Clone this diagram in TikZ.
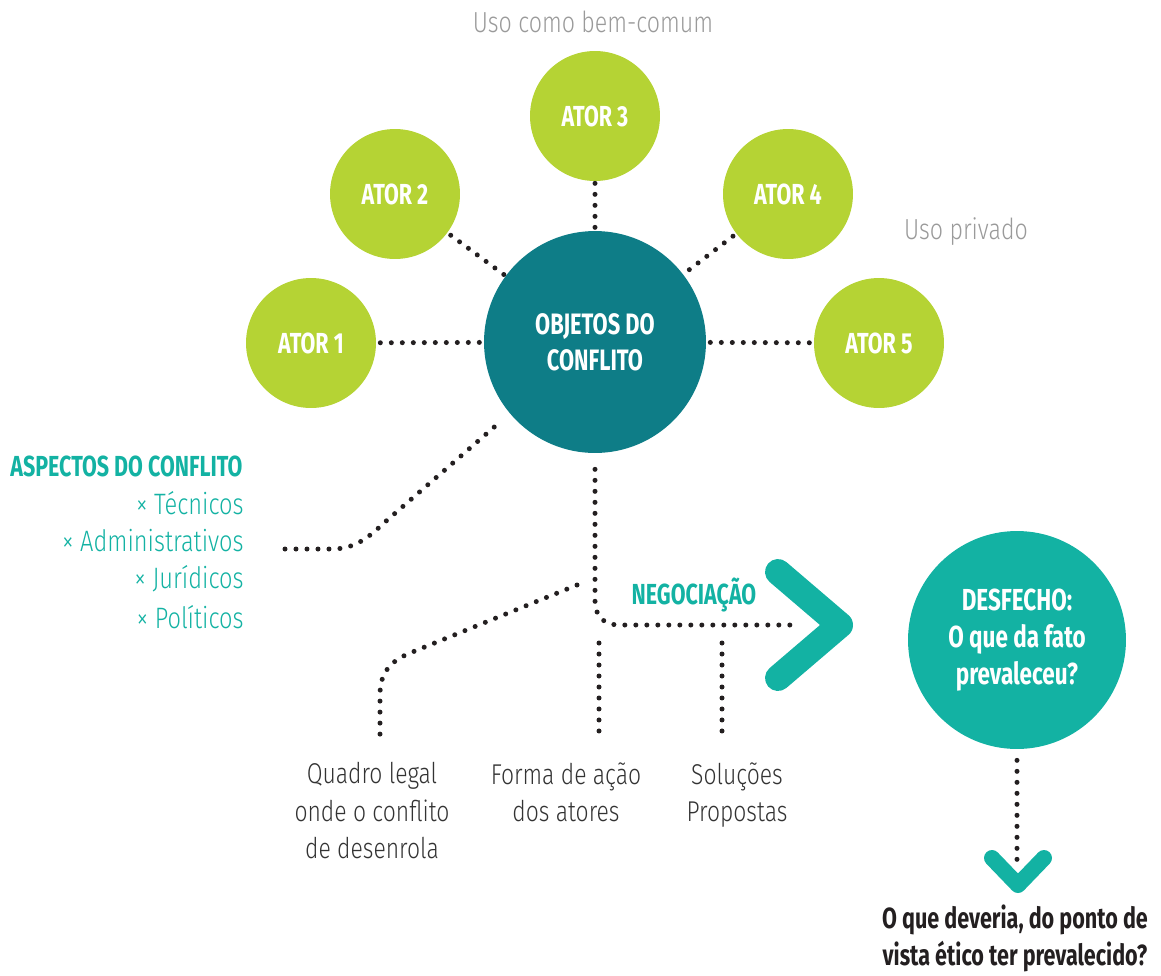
\documentclass[tikz,border=0pt]{standalone}
\usepackage{fontspec}
\setmainfont{Fira Sans}[FakeStretch=0.74]
\newfontfamily\lightf{Fira Sans Light}[FakeStretch=0.8]
\definecolor{lime}{HTML}{B5D334}
\definecolor{hubc}{HTML}{0E7D87}
\definecolor{tealc}{HTML}{13B2A3}
\definecolor{dotc}{HTML}{231F20}
\definecolor{grayc}{HTML}{9A9A9A}
\definecolor{labc}{HTML}{333333}
\begin{document}
\begin{tikzpicture}[x=0.02cm,y=-0.02cm,
  actor/.style={circle, fill=lime, minimum size=2.6cm, inner sep=0pt, text=white,
    font=\bfseries\fontsize{16.5}{20}\selectfont},
  hub/.style={circle, fill=hubc, minimum size=4.44cm, inner sep=0pt, text=white, align=center,
    font=\bfseries\fontsize{16.8}{20.5}\selectfont},
  outc/.style={circle, fill=tealc, minimum size=4.36cm, inner sep=0pt, text=white, align=center,
    font=\bfseries\fontsize{17.3}{21.3}\selectfont},
  dots/.style={draw=dotc, line width=0.1cm, dash pattern=on 0pt off 0.22cm, line cap=round},
  graytxt/.style={text=grayc, inner sep=0pt, font=\lightf\fontsize{16.5}{20}\selectfont},
  aspitem/.style={text=tealc, anchor=east, inner sep=0pt, font=\lightf\fontsize{16.8}{20}\selectfont},
  labtxt/.style={text=labc, inner sep=0pt, align=center, font=\lightf\fontsize{16.3}{21.3}\selectfont},
  chev/.style={draw=tealc, line cap=round, line join=round}
]
\useasboundingbox (0,0) rectangle (1161,975);

% actors and hub
\node[hub] (c) at (595,342) {OBJETOS DO\\CONFLITO};
\node[actor] (a1) at (311,343) {ATOR 1};
\node[actor] (a2) at (395,194) {ATOR 2};
\node[actor] (a3) at (595,116) {ATOR 3};
\node[actor] (a4) at (788,194) {ATOR 4};
\node[actor] (a5) at (879,343) {ATOR 5};
\node[outc] (d) at (1017,640) {DESFECHO:\\O que da fato\\prevaleceu?};

% texts
\node[graytxt] (ubc) at (593,22) {Uso como bem-comum};
\node[graytxt] (upr) at (966,232) {Uso privado};
\node[anchor=west, inner sep=0pt, text=tealc, font=\bfseries\fontsize{16.5}{20}\selectfont] (asp) at (10,466) {ASPECTOS DO CONFLITO};
\node[aspitem] (t1) at (244,503) {× Técnicos};
\node[aspitem] (t2) at (244,541) {× Administrativos};
\node[aspitem] (t3) at (244,579) {× Jurídicos};
\node[aspitem] (t4) at (244,617) {× Políticos};
\node[inner sep=0pt, text=tealc, font=\bfseries\fontsize{16.5}{20}\selectfont] (neg) at (694,595) {NEGOCIAÇÃO};
\node[labtxt, anchor=north] (ql) at (372,762) {Quadro legal\\onde o conflito\\de desenrola};
\node[labtxt, anchor=north] (fa) at (566,762) {Forma de ação\\dos atores};
\node[labtxt, anchor=north] (sp) at (737,762) {Soluções\\Propostas};
\node[inner sep=0pt, align=center, text=dotc, font=\bfseries\fontsize{16.6}{21}\selectfont] (q) at (1015,938) {O que deveria, do ponto de\\vista ético ter prevalecido?};

% coordinates for free ends
\coordinate (aspEnd) at (285,549);
\coordinate (negEnd) at (797,625);
\coordinate (qlTop) at (577,585);
\coordinate (qlEnd) at (380,735);
\coordinate (faTop) at (599,643);
\coordinate (faEnd) at (599,735);
\coordinate (spTop) at (722,643);
\coordinate (spEnd) at (722,735);
\coordinate (dEnd) at (1017,866);

% dotted connectors
\draw[dots, shorten <=0.08cm, shorten >=0.02cm] (a1) -- (c);
\draw[dots, shorten <=0.08cm] (a2) -- (c);
\draw[dots, shorten <=0.04cm] (a3) -- (c);
\draw[dots, shorten <=0.08cm] (a4) -- (c);
\draw[dots, shorten <=0.08cm, shorten >=0.04cm] (c) -- (a5);
\draw[dots, shorten >=0.24cm] (aspEnd) -- (332,549) .. controls (356,549) and (370,536) .. (385,522) -- (c.220);
\draw[dots, shorten <=0.32cm] (c.south) -- (595,600) .. controls (595,617) and (604,625) .. (620,625) -- (negEnd);
\draw[dots] (qlTop) -- (410,653) .. controls (388,662) and (380,675) .. (380,695) -- (qlEnd);
\draw[dots] (faTop) -- (faEnd);
\draw[dots] (spTop) -- (spEnd);
\draw[dots, shorten <=0.22cm] (d.south) -- (dEnd);

% chevrons
\draw[chev, line width=0.52cm] (778,572) -- (840,625) -- (778,678);
\draw[chev, line width=0.32cm] (992,858) -- (1018,885) -- (1044,858);
\end{tikzpicture}
\end{document}
